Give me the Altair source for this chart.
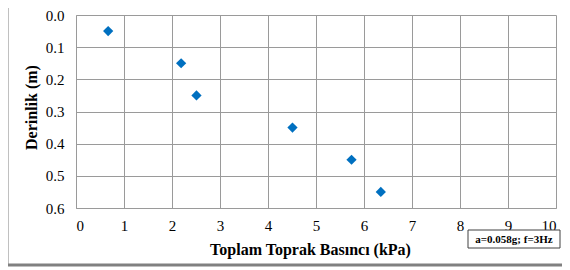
import altair as alt
import pandas as pd

pressure = [0.67, 2.19, 2.51, 4.51, 5.74, 6.35]
depth = [0.05, 0.15, 0.25, 0.35, 0.45, 0.55]
x_ticks = [0, 1, 2, 3, 4, 5, 6, 7, 8, 9, 10]
y_ticks = [0.0, 0.1, 0.2, 0.3, 0.4, 0.5, 0.6]
note = "a=0.058g; f=3Hz"

df = pd.DataFrame({"p": pressure, "d": depth})

W, H = 480, 193
FONT = "Liberation Serif"

points = alt.Chart(df).mark_point(
    shape="diamond", filled=True, color="#0070C0", size=105, opacity=1
).encode(
    x=alt.X("p:Q", scale=alt.Scale(domain=[0, 10], nice=False),
            axis=alt.Axis(values=x_ticks, format="d", title="Toplam Toprak Basıncı (kPa)",
                          titlePadding=8, titleX=234, titleAlign="center")),
    y=alt.Y("d:Q", scale=alt.Scale(domain=[0, 0.6], reverse=True, nice=False),
            axis=alt.Axis(values=y_ticks, format=".1f", title="Derinlik (m)",
                          titlePadding=6, titleY=92, titleAlign="center")),
)

frame_left = alt.Chart().mark_rule(color="#c0c0c0", strokeWidth=1).encode(
    x=alt.value(-67.5), y=alt.value(-10), y2=alt.value(250)
)
frame_bottom = alt.Chart().mark_rule(color="#808080", strokeWidth=3).encode(
    x=alt.value(-68), x2=alt.value(500), y=alt.value(250)
)

box = alt.Chart().mark_rect(fill="white", stroke="#404040", strokeWidth=1).encode(
    x=alt.value(392), x2=alt.value(484), y=alt.value(215), y2=alt.value(233)
)
label = alt.Chart(pd.DataFrame({"t": [note]})).mark_text(
    font=FONT, fontSize=11, fontWeight="bold", color="black", align="center", baseline="middle"
).encode(x=alt.value(438), y=alt.value(224.5), text="t:N")

chart = alt.layer(frame_left, frame_bottom, points, box, label).properties(
    width=W, height=H,
    autosize=alt.AutoSizeParams(type="none"),
    padding={"left": 68, "top": 7, "right": 6, "bottom": 60},
).configure_view(stroke=None).configure_axis(
    grid=True, gridColor="#9a9a9a", gridWidth=1,
    domainColor="#9a9a9a", domainWidth=1,
    ticks=False, labelFont=FONT, labelFontSize=15, labelColor="black",
    titleFont=FONT, titleFontSize=16, titleFontWeight="bold", titleColor="black",
).configure_axisX(labelPadding=10).configure_axisY(labelPadding=12)

chart.save("out.html", embed_options={"renderer": "svg", "actions": False})
